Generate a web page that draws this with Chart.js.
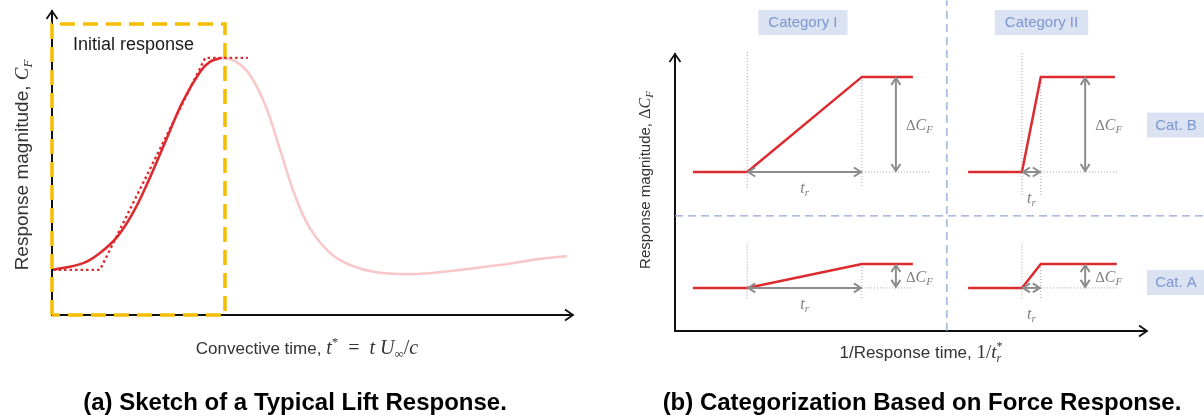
<!DOCTYPE html>
<html>
<head>
<meta charset="utf-8">
<script src="https://cdn.jsdelivr.net/npm/chart.js@4.4.1/dist/chart.umd.min.js"></script>
<style>
  html, body { margin: 0; padding: 0; background: #fff; }
  #wrap { position: relative; width: 1204px; height: 420px; }
  canvas { position: absolute; top: 0; }
  #chart-lift { left: 0; }
  #chart-cat { left: 604px; }
</style>
</head>
<body>
<div id="wrap">
  <canvas id="chart-lift" width="604" height="420"></canvas>
  <canvas id="chart-cat" width="600" height="420"></canvas>
</div>
<script>
// (a) typical lift response, schematic units (time 0-10, C_F 0-10)
var riseTime = [0.02, 0.6, 0.92, 1.25, 1.55, 1.86, 2.19, 2.51, 2.84, 3.03, 3.26];
var riseLift = [1.48, 1.70, 2.03, 2.56, 3.34, 4.43, 5.74, 7.00, 7.97, 8.30, 8.43];
var tailTime = [3.26, 3.51, 3.80, 4.09, 4.38, 4.66, 4.95, 5.34, 5.72, 6.20, 6.87, 7.64, 8.60, 9.37, 9.88];
var tailLift = [8.43, 8.33, 7.87, 6.89, 5.41, 3.93, 2.85, 2.03, 1.64, 1.41, 1.34, 1.44, 1.64, 1.84, 1.93];
var rampTime = [0.02, 0.92, 2.94, 3.76];
var rampLift = [1.48, 1.48, 8.43, 8.43];
var windowTime = [0, 0, 3.32, 3.32, 0];
var windowLift = [0, 9.54, 9.54, 0, 0];

// (b) categorization sketches, order: I-B, II-B, I-A, II-A
var columnLabels = ["Category I", "Category II"];
var rowLabels = ["Cat. B", "Cat. A"];
var stepStart = [0.38, 6.21, 0.38, 6.21];
var rampStart = [1.53, 7.35, 1.53, 7.35];
var rampEnd = [3.96, 7.75, 3.96, 7.75];
var stepEnd = [5.04, 9.32, 5.04, 9.36];
var baseLevel = [5.72, 5.72, 1.55, 1.55];
var peakLevel = [9.14, 9.14, 2.41, 2.41];
var guideTop = [10.04, 10.0, 3.15, 3.15];
var guideBottom = [5.14, 4.82, 1.12, 1.12];
var guideEnd = [5.40, 9.39, 5.04, 9.36];
var deltaAt = [4.68, 8.69, 4.68, 8.69];
var columnSplit = 5.76;
var rowSplit = 4.14;

var SANS = '"Liberation Sans", Arial, sans-serif';
var SERIF = '"Liberation Serif", "DejaVu Serif", serif';
var RED = "#dc2a2f";

function pts(xs, ys) {
  return xs.map(function (x, i) { return { x: x, y: ys[i] }; });
}

function chevron(ctx, x, y, ang, len, half) {
  var bx = x - Math.cos(ang) * len, by = y - Math.sin(ang) * len;
  var nx = -Math.sin(ang) * half, ny = Math.cos(ang) * half;
  ctx.beginPath();
  ctx.moveTo(bx + nx, by + ny);
  ctx.lineTo(x, y);
  ctx.lineTo(bx - nx, by - ny);
  ctx.stroke();
}

function doubleArrow(ctx, x1, y1, x2, y2) {
  var ang = Math.atan2(y2 - y1, x2 - x1);
  ctx.beginPath();
  ctx.moveTo(x1, y1);
  ctx.lineTo(x2, y2);
  ctx.stroke();
  chevron(ctx, x2, y2, ang, 7, 4.5);
  chevron(ctx, x1, y1, ang + Math.PI, 7, 4.5);
}

// parts: {text, font, dy, hold} - hold keeps x for stacked sub/superscripts
function richWidth(ctx, parts) {
  var w = 0;
  parts.forEach(function (p) {
    ctx.font = p.font;
    if (!p.hold) w += ctx.measureText(p.text).width;
  });
  return w;
}

function drawRich(ctx, parts, x, y, align) {
  var cx = align === "center" ? x - richWidth(ctx, parts) / 2 : x;
  ctx.textAlign = "left";
  ctx.textBaseline = "alphabetic";
  parts.forEach(function (p) {
    ctx.font = p.font;
    ctx.fillText(p.text, cx, y + (p.dy || 0));
    if (!p.hold) cx += ctx.measureText(p.text).width;
  });
}

function axesWithArrows(ctx, a) {
  ctx.save();
  ctx.strokeStyle = "#111";
  ctx.lineWidth = 2;
  ctx.beginPath();
  ctx.moveTo(a.left, a.top);
  ctx.lineTo(a.left, a.bottom);
  ctx.lineTo(a.right, a.bottom);
  ctx.stroke();
  ctx.lineWidth = 1.8;
  chevron(ctx, a.left, a.top + 1, -Math.PI / 2, 8, 5.5);
  chevron(ctx, a.right, a.bottom, 0, 8, 5.5);
  ctx.restore();
}

function baseOptions(pad) {
  return {
    responsive: false,
    animation: false,
    devicePixelRatio: 1,
    layout: { padding: pad },
    plugins: { legend: { display: false }, tooltip: { enabled: false } },
    elements: { point: { radius: 0 } },
    scales: {
      x: { type: "linear", min: 0, max: 10, display: false },
      y: { type: "linear", min: 0, max: 10, display: false },
    },
  };
}

var liftDecor = {
  id: "liftDecor",
  beforeDatasetsDraw: function (chart) {
    axesWithArrows(chart.ctx, chart.chartArea);
  },
  afterDatasetsDraw: function (chart) {
    var ctx = chart.ctx, a = chart.chartArea;
    ctx.save();
    ctx.fillStyle = "#1a1a1a";
    ctx.font = "18px " + SANS;
    ctx.textAlign = "left";
    ctx.textBaseline = "middle";
    ctx.fillText("Initial response", a.left + 21, 45);

    ctx.fillStyle = "#333";
    ctx.save();
    ctx.translate(a.left - 30, 165);
    ctx.rotate(-Math.PI / 2);
    drawRich(ctx, [
      { text: "Response magnitude, ", font: "19px " + SANS },
      { text: "C", font: "italic 19px " + SERIF },
      { text: "F", font: "italic 13px " + SERIF, dy: 4 },
    ], 0, 6, "center");
    ctx.restore();

    drawRich(ctx, [
      { text: "Convective time, ", font: "17px " + SANS },
      { text: "t", font: "italic 20px " + SERIF },
      { text: "*", font: "13px " + SERIF, dy: -8 },
      { text: "  =  ", font: "20px " + SERIF },
      { text: "t ", font: "italic 20px " + SERIF },
      { text: "U", font: "italic 20px " + SERIF },
      { text: "\u221E", font: "13px " + SERIF, dy: 4 },
      { text: "/", font: "20px " + SERIF },
      { text: "c", font: "italic 20px " + SERIF },
    ], 307, 354, "center");

    ctx.fillStyle = "#000";
    ctx.font = "bold 24px " + SANS;
    ctx.textAlign = "center";
    ctx.textBaseline = "middle";
    ctx.fillText("(a) Sketch of a Typical Lift Response.", 295, 403, 426);
    ctx.restore();
  },
};

var catDecor = {
  id: "catDecor",
  beforeDatasetsDraw: function (chart) {
    var ctx = chart.ctx, a = chart.chartArea;
    var xs = chart.scales.x, ys = chart.scales.y;
    axesWithArrows(ctx, a);
    ctx.save();
    ctx.strokeStyle = "#a0a0a0";
    ctx.lineWidth = 1;
    ctx.setLineDash([1, 2]);
    stepStart.forEach(function (s, i) {
      var x0 = xs.getPixelForValue(rampStart[i]), x1 = xs.getPixelForValue(rampEnd[i]);
      var yb = ys.getPixelForValue(guideBottom[i]);
      ctx.beginPath();
      ctx.moveTo(x0, ys.getPixelForValue(guideTop[i]));
      ctx.lineTo(x0, yb);
      ctx.moveTo(x1, ys.getPixelForValue(peakLevel[i]));
      ctx.lineTo(x1, yb);
      ctx.moveTo(x1, ys.getPixelForValue(baseLevel[i]));
      ctx.lineTo(xs.getPixelForValue(guideEnd[i]), ys.getPixelForValue(baseLevel[i]));
      ctx.stroke();
    });
    ctx.restore();
  },
  afterDatasetsDraw: function (chart) {
    var ctx = chart.ctx, a = chart.chartArea;
    var xs = chart.scales.x, ys = chart.scales.y;
    ctx.save();
    // t_r and delta C_F arrows
    ctx.strokeStyle = "#8c8c8c";
    ctx.fillStyle = "#808080";
    ctx.lineWidth = 2;
    stepStart.forEach(function (s, i) {
      var x0 = xs.getPixelForValue(rampStart[i]), x1 = xs.getPixelForValue(rampEnd[i]);
      var yb = ys.getPixelForValue(baseLevel[i]), yp = ys.getPixelForValue(peakLevel[i]);
      var xd = xs.getPixelForValue(deltaAt[i]);
      doubleArrow(ctx, x0 + 1, yb, x1 - 1, yb);
      doubleArrow(ctx, xd, yp + 1, xd, yb - 1);
      var narrow = x1 - x0 < 40;
      drawRich(ctx, [
        { text: "t", font: "italic 16px " + SERIF },
        { text: "r", font: "italic 11px " + SERIF, dy: 3 },
      ], (x0 + x1) / 2, yb + (narrow ? 31 : 21), "center");
      drawRich(ctx, [
        { text: "\u0394", font: "15px " + SERIF },
        { text: "C", font: "italic 16px " + SERIF },
        { text: "F", font: "italic 11px " + SERIF, dy: 3 },
      ], xd + 10, (yb + yp) / 2 + 6, "left");
    });

    // category tags
    ctx.font = "15px " + SANS;
    ctx.textBaseline = "middle";
    ctx.textAlign = "center";
    columnLabels.forEach(function (lab, c) {
      var cx = (xs.getPixelForValue(stepStart[c]) + xs.getPixelForValue(stepEnd[c])) / 2;
      var w = ctx.measureText(lab).width + 20;
      ctx.fillStyle = "#dbe2f2";
      ctx.fillRect(cx - w / 2, 10, w, 25);
      ctx.fillStyle = "#7d97cf";
      ctx.fillText(lab, cx, 23);
    });
    rowLabels.forEach(function (lab, r) {
      var i = r * 2;
      var cy = (ys.getPixelForValue(baseLevel[i]) + ys.getPixelForValue(peakLevel[i])) / 2 + (r ? 6 : 0);
      ctx.fillStyle = "#dbe2f2";
      ctx.fillRect(a.right, cy - 12, chart.width - a.right, 25);
      ctx.fillStyle = "#7d97cf";
      ctx.fillText(lab, a.right + 29, cy + 1);
    });

    // axis titles
    ctx.fillStyle = "#333";
    ctx.save();
    ctx.translate(a.left - 30, 180);
    ctx.rotate(-Math.PI / 2);
    drawRich(ctx, [
      { text: "Response magnitude, ", font: "15px " + SANS },
      { text: "\u0394", font: "16px " + SERIF },
      { text: "C", font: "italic 16px " + SERIF },
      { text: "F", font: "italic 11px " + SERIF, dy: 3 },
    ], 0, 5, "center");
    ctx.restore();

    drawRich(ctx, [
      { text: "1/Response time, ", font: "17px " + SANS },
      { text: "1/", font: "19px " + SERIF },
      { text: "t", font: "italic 19px " + SERIF },
      { text: "r", font: "italic 12px " + SERIF, dy: 4, hold: true },
      { text: "*", font: "12px " + SERIF, dy: -8 },
    ], 317, 358, "center");

    ctx.fillStyle = "#000";
    ctx.font = "bold 24px " + SANS;
    ctx.textAlign = "center";
    ctx.textBaseline = "middle";
    ctx.fillText("(b) Categorization Based on Force Response.", 318, 403, 522);
    ctx.restore();
  },
};

new Chart(document.getElementById("chart-lift"), {
  type: "line",
  data: {
    datasets: [
      { data: pts(riseTime, riseLift), borderColor: RED, borderWidth: 2.6, tension: 0.4, clip: false },
      { data: pts(rampTime, rampLift), borderColor: RED, borderWidth: 2.4, borderDash: [2.5, 3], tension: 0, clip: false },
      { data: pts(windowTime, windowLift), borderColor: "#f4bd00", borderWidth: 3.5, borderDash: [15, 8], tension: 0, clip: false },
      { data: pts(tailTime, tailLift), borderColor: "#f8c8c8", borderWidth: 2.6, tension: 0.4, clip: false },
    ],
  },
  options: baseOptions({ left: 52, top: 10, right: 31, bottom: 105 }),
  plugins: [liftDecor],
});

var sketchSets = stepStart.map(function (s, i) {
  return {
    data: pts([stepStart[i], rampStart[i], rampEnd[i], stepEnd[i]],
      [baseLevel[i], baseLevel[i], peakLevel[i], peakLevel[i]]),
    borderColor: RED, borderWidth: 2.5, tension: 0, clip: false,
  };
});
sketchSets.push(
  { data: pts([columnSplit, columnSplit], [0, 11.9]), borderColor: "#8fa7da", borderWidth: 1.3, borderDash: [8, 5], tension: 0, clip: false },
  { data: pts([0, 11.2], [rowSplit, rowSplit]), borderColor: "#8fa7da", borderWidth: 1.3, borderDash: [8, 5], tension: 0, clip: false }
);

new Chart(document.getElementById("chart-cat"), {
  type: "line",
  data: { datasets: sketchSets },
  options: baseOptions({ left: 71, top: 53, right: 57, bottom: 89 }),
  plugins: [catDecor],
});
</script>
</body>
</html>
